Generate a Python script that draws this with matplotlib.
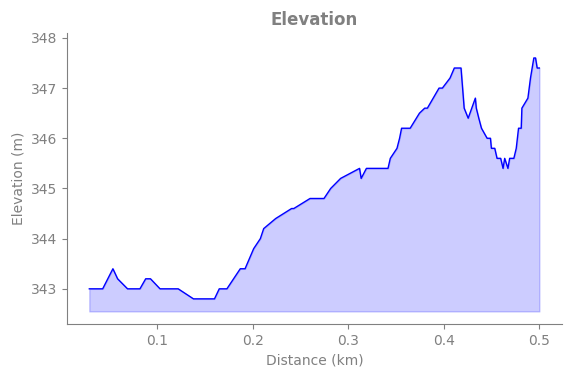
import matplotlib
matplotlib.use('Agg')
import matplotlib.pyplot as plt

# Distance along the track (km) and elevation (m)
distance_km = [
    0.029, 0.043, 0.0537, 0.0586, 0.069, 0.082, 0.088, 0.093, 0.103, 0.122,
    0.138, 0.160, 0.165, 0.173, 0.187, 0.192, 0.201, 0.208, 0.2115, 0.224,
    0.2407, 0.243, 0.260, 0.2746, 0.2816, 0.292, 0.3118, 0.3135, 0.319, 0.3416,
    0.344, 0.351, 0.3537, 0.3558, 0.3648, 0.3745, 0.380, 0.3828, 0.395, 0.3985,
    0.4065, 0.411, 0.418, 0.4213, 0.4255, 0.433, 0.434, 0.4366, 0.4394, 0.4453,
    0.4488, 0.4498, 0.4533, 0.4557, 0.4595, 0.462, 0.4637, 0.4671, 0.4689, 0.4733,
    0.4758, 0.4782, 0.481, 0.4817, 0.488, 0.4907, 0.4942, 0.496, 0.4977, 0.500,
]
elevation_m = [
    343.0, 343.0, 343.4, 343.2, 343.0, 343.0, 343.2, 343.2, 343.0, 343.0,
    342.8, 342.8, 343.0, 343.0, 343.4, 343.4, 343.8, 344.0, 344.2, 344.4,
    344.6, 344.6, 344.8, 344.8, 345.0, 345.2, 345.4, 345.2, 345.4, 345.4,
    345.6, 345.8, 346.0, 346.2, 346.2, 346.5, 346.6, 346.6, 347.0, 347.0,
    347.2, 347.4, 347.4, 346.6, 346.4, 346.8, 346.6, 346.4, 346.2, 346.0,
    346.0, 345.8, 345.8, 345.6, 345.6, 345.4, 345.6, 345.4, 345.6, 345.6,
    345.8, 346.2, 346.2, 346.6, 346.8, 347.2, 347.6, 347.6, 347.4, 347.4,
]

text_grey = 'grey'

fig, ax = plt.subplots(figsize=(5.71, 3.78), dpi=100)
fig.subplots_adjust(left=0.117, right=0.984, bottom=0.143, top=0.913)

ymin = min(elevation_m)
ymax = max(elevation_m)

ax.plot(distance_km, elevation_m, color='blue', linewidth=1)
ax.fill_between(distance_km, elevation_m, ymin - 0.25, color='blue', alpha=0.2)
ax.set_ylim(ymin - 0.5, ymax + 0.5)

ax.set_title('Elevation', fontsize=12, fontweight='bold', color=text_grey)
ax.set_xlabel('Distance (km)', color=text_grey)
ax.set_ylabel('Elevation (m)', color=text_grey)

# Only left and bottom spines, all in grey
ax.spines['top'].set_visible(False)
ax.spines['right'].set_visible(False)
for side in ['left', 'bottom']:
    ax.spines[side].set_color(text_grey)
ax.tick_params(colors=text_grey)

fig.savefig('out.png', dpi=100)
